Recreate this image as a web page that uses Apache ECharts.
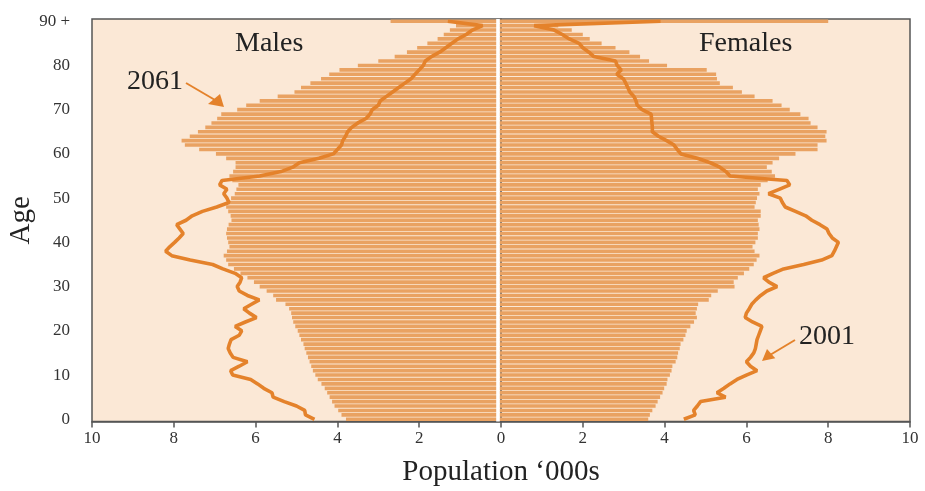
<!DOCTYPE html>
<html>
<head>
<meta charset="utf-8">
<script src="https://cdn.jsdelivr.net/npm/echarts@6/dist/echarts.min.js"></script>
<style>
html,body{margin:0;padding:0;background:#fff;}
#chart{width:925px;height:491px;}
</style>
</head>
<body>
<div id="chart"></div>
<script>
// Ages 0..90 (90 = "90 +")
var ages = [];
for (var i = 0; i <= 90; i++) ages.push(String(i));

// 2061 projection, thousands (bars)
var males2061 = [3.79,3.9,3.98,4.07,4.13,4.19,4.25,4.31,4.39,4.48,
  4.54,4.6,4.64,4.68,4.72,4.76,4.8,4.83,4.89,4.93,
  4.97,5.03,5.08,5.11,5.13,5.18,5.27,5.5,5.57,5.73,
  5.9,6.04,6.2,6.37,6.53,6.67,6.72,6.78,6.7,6.64,
  6.67,6.7,6.72,6.7,6.66,6.59,6.61,6.67,6.72,6.66,
  6.6,6.51,6.47,6.42,6.57,6.64,6.55,6.49,6.49,6.72,
  6.97,7.38,7.73,7.81,7.61,7.41,7.23,7.08,6.94,6.84,
  6.45,6.23,5.9,5.46,5.05,4.89,4.66,4.4,4.2,3.95,
  3.5,3.0,2.6,2.3,2.05,1.8,1.55,1.4,1.25,1.1,
  2.7];
var females2061 = [3.6,3.64,3.7,3.78,3.83,3.89,3.95,3.99,4.05,4.07,
  4.13,4.17,4.19,4.27,4.31,4.33,4.37,4.39,4.46,4.51,
  4.54,4.63,4.72,4.79,4.76,4.79,4.82,5.08,5.14,5.3,
  5.71,5.69,5.79,5.94,6.07,6.18,6.25,6.32,6.2,6.15,
  6.22,6.28,6.28,6.32,6.3,6.28,6.35,6.35,6.2,6.23,
  6.26,6.32,6.28,6.35,6.52,6.7,6.62,6.5,6.64,6.8,
  7.2,7.74,7.74,7.96,7.93,7.96,7.74,7.57,7.52,7.32,
  7.06,6.86,6.64,6.2,5.89,5.67,5.35,5.28,5.26,5.03,
  4.06,3.62,3.4,3.14,2.8,2.46,2.17,2.0,1.73,1.4,
  8.0];

// 2001 population, thousands (lines)
var males2001 = [4.56,4.78,4.8,5.0,5.3,5.57,5.6,5.8,5.95,6.12,
  6.56,6.61,6.4,6.2,6.55,6.62,6.67,6.64,6.6,6.4,
  6.34,6.5,6.25,5.98,6.15,6.29,6.1,5.91,6.2,6.4,
  6.45,6.38,6.34,6.5,6.8,7.05,7.6,8.05,8.2,8.1,
  7.98,7.87,7.77,7.85,7.93,7.7,7.55,7.3,6.95,6.65,
  6.7,6.78,6.7,6.88,6.82,5.9,5.38,5.09,4.93,4.45,
  4.1,4.0,3.9,3.87,3.8,3.75,3.65,3.5,3.3,3.2,
  3.15,3.0,2.95,2.8,2.65,2.5,2.35,2.2,2.1,2.0,
  1.9,1.85,1.7,1.5,1.35,1.2,1.05,0.85,0.7,0.45,
  1.3];
var females2001 = [4.47,4.75,4.71,4.8,4.88,5.49,5.28,5.45,5.6,5.77,
  6.0,6.26,6.1,6.0,6.1,6.18,6.22,6.24,6.26,6.3,
  6.34,6.38,6.15,5.97,6.0,6.07,6.13,6.23,6.35,6.5,
  6.75,6.55,6.42,6.65,6.91,7.4,7.84,8.09,8.15,8.2,
  8.25,8.1,8.02,7.97,7.8,7.6,7.45,7.2,6.95,6.88,
  6.83,6.54,6.8,7.06,6.99,5.6,5.5,5.35,5.12,4.8,
  4.4,4.31,4.23,4.05,3.85,3.7,3.7,3.69,3.68,3.67,
  3.45,3.33,3.3,3.25,3.15,3.1,3.05,2.99,2.83,2.94,
  2.84,2.8,2.27,2.15,2.0,1.91,1.67,1.5,1.3,0.81,
  3.9];

var BAR = '#E9A262';
var LINE = '#E4822B';
var FONT = 'Liberation Serif';

var chart = echarts.init(document.getElementById('chart'), null, {renderer:'canvas'});
chart.setOption({
  animation: false,
  backgroundColor: '#ffffff',
  grid: {left: 92, right: 15, top: 19, bottom: 69.5, show: true,
    outerBoundsMode: 'none', containLabel: false,
    backgroundColor: '#FBE8D6', borderColor: '#555', borderWidth: 1.5},
  xAxis: {
    type: 'value', min: -10, max: 10, interval: 2,
    name: 'Population \u2018000s', nameLocation: 'middle', nameGap: 36,
    nameMoveOverlap: false,
    nameTextStyle: {fontFamily: FONT, fontSize: 29, color: '#222'},
    axisLine: {show: true, lineStyle: {color: '#555', width: 1.5}},
    axisTick: {show: true, length: 6, lineStyle: {color: '#555', width: 1.5}},
    axisLabel: {margin: 9, fontFamily: FONT, fontSize: 17, color: '#333',
      formatter: function (v) { return String(Math.abs(v)); }},
    splitLine: {show: false}
  },
  yAxis: {
    type: 'category', data: ages, boundaryGap: true,
    name: 'Age', nameLocation: 'middle', nameGap: 56, nameRotate: 90,
    nameMoveOverlap: false,
    nameTextStyle: {fontFamily: FONT, fontSize: 29, color: '#222'},
    axisLine: {show: true, lineStyle: {color: '#555', width: 1.5}},
    axisTick: {show: true, length: 10, interval: 9, alignWithLabel: true,
      lineStyle: {color: '#555', width: 1.5}},
    axisLabel: {interval: 9, margin: 22, fontFamily: FONT, fontSize: 17, color: '#333',
      formatter: function (v) { return v === '90' ? '90 +' : v; }},
    splitLine: {show: false}
  },
  series: [
    {name: 'Males 2061', type: 'bar', z: 2, barGap: '-100%', barCategoryGap: '18%',
      itemStyle: {color: BAR}, silent: true,
      data: males2061.map(function (v) { return -v; })},
    {name: 'Females 2061', type: 'bar', z: 2, barGap: '-100%', barCategoryGap: '18%',
      itemStyle: {color: BAR}, silent: true,
      data: females2061,
      markLine: {silent: true, symbol: 'none', label: {show: false},
        lineStyle: {color: '#ffffff', width: 3.6, type: 'solid'},
        data: [{xAxis: -0.085}]}},
    {name: 'Males 2001', type: 'line', z: 5, symbol: 'none', silent: true,
      lineStyle: {color: LINE, width: 3.6}, itemStyle: {color: LINE},
      data: males2001.map(function (v) { return -v; })},
    {name: 'Females 2001', type: 'line', z: 5, symbol: 'none', silent: true,
      lineStyle: {color: LINE, width: 3.6}, itemStyle: {color: LINE},
      data: females2001}
  ],
  graphic: [
    {type: 'text', left: 235, top: 30, z: 10,
      style: {text: 'Males', fontFamily: FONT, fontSize: 28, fill: '#222'}},
    {type: 'text', left: 699, top: 30, z: 10,
      style: {text: 'Females', fontFamily: FONT, fontSize: 28, fill: '#222'}},
    {type: 'text', left: 127, top: 68, z: 10,
      style: {text: '2061', fontFamily: FONT, fontSize: 28, fill: '#222'}},
    {type: 'text', left: 799, top: 323, z: 10,
      style: {text: '2001', fontFamily: FONT, fontSize: 28, fill: '#222'}},
    {type: 'line', z: 10, shape: {x1: 186, y1: 83, x2: 215, y2: 100},
      style: {stroke: LINE, lineWidth: 2}},
    {type: 'polygon', z: 10, shape: {points: [[208,104],[220,94],[224,107]]},
      style: {fill: LINE}},
    {type: 'line', z: 10, shape: {x1: 795, y1: 340, x2: 770, y2: 355},
      style: {stroke: LINE, lineWidth: 2}},
    {type: 'polygon', z: 10, shape: {points: [[767,349],[775.3,358.3],[762,361]]},
      style: {fill: LINE}}
  ]
});
</script>
</body>
</html>
